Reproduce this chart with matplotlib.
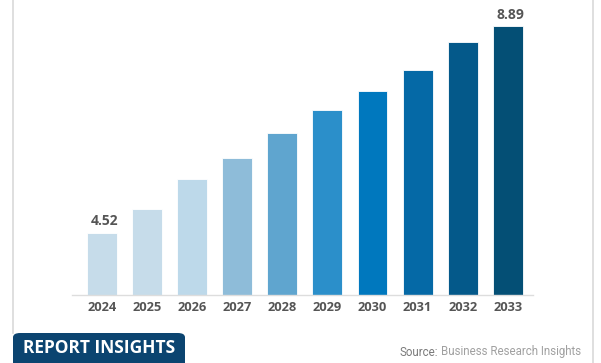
import matplotlib.pyplot as plt
from matplotlib.patches import FancyBboxPatch
from matplotlib.lines import Line2D

years = ['2024', '2025', '2026', '2027', '2028', '2029', '2030', '2031', '2032', '2033']
values = [4.52, 5.03, 5.66, 6.11, 6.63, 7.12, 7.52, 7.97, 8.56, 8.89]
colors = ['#c6dcea', '#c6dcea', '#bdd9ea', '#8ebcd9', '#5fa5cf', '#2b8fca',
          '#0078be', '#0569a6', '#04598a', '#044f75']
labelled = {0: '4.52', 9: '8.89'}

fig = plt.figure(figsize=(6.01, 3.63), dpi=100)
ax = fig.add_axes([72 / 601, 68 / 363, 461 / 601, 287 / 363])

x = range(len(years))
ax.bar(x, values, width=0.665, color=colors, edgecolor='white', linewidth=0.6)
ax.set_xlim(-0.665, 9.56)
ax.set_ylim(3.21, 9.28)

for i, txt in labelled.items():
    ax.text(i + 0.05, values[i] + 0.1, txt, ha='center', va='bottom', fontsize=10,
            fontweight='bold', color='#555555', family='Open Sans')

ax.set_xticks(list(x))
ax.set_xticklabels(years, fontsize=9.3, fontweight='bold', color='#555555', family='Open Sans')
ax.tick_params(axis='x', length=0, pad=4)
ax.set_yticks([])
for s in ['top', 'left', 'right']:
    ax.spines[s].set_visible(False)
ax.spines['bottom'].set_color('#dddddd')
ax.spines['bottom'].set_linewidth(1)

# frame lines
fig.add_artist(Line2D([12.5 / 601, 12.5 / 601], [30 / 363, 1], color='#d9d9d9', lw=1.2))
fig.add_artist(Line2D([592.5 / 601, 592.5 / 601], [0, 1], color='#d9d9d9', lw=1.2))

# badge
badge = FancyBboxPatch((13 / 601, -10 / 363), 172 / 601, 40 / 363,
                       boxstyle='round,pad=0,rounding_size=0.012',
                       facecolor='#0b4470', edgecolor='none', transform=fig.transFigure)
fig.add_artist(badge)
fig.text(99 / 601, 15 / 363, 'REPORT INSIGHTS', ha='center', va='center', fontsize=12.5,
         fontweight='bold', color='white', family='Open Sans')

fig.text(400 / 601, 11 / 363, 'Source:', ha='left', va='center', fontsize=8.3,
         color='#7a7a7a', family='Roboto')
fig.text(441 / 601, 11 / 363, 'Business Research Insights', ha='left', va='center', fontsize=8.3,
         color='#a0a0a0', family='Roboto')

fig.savefig('out.png', dpi=100)
